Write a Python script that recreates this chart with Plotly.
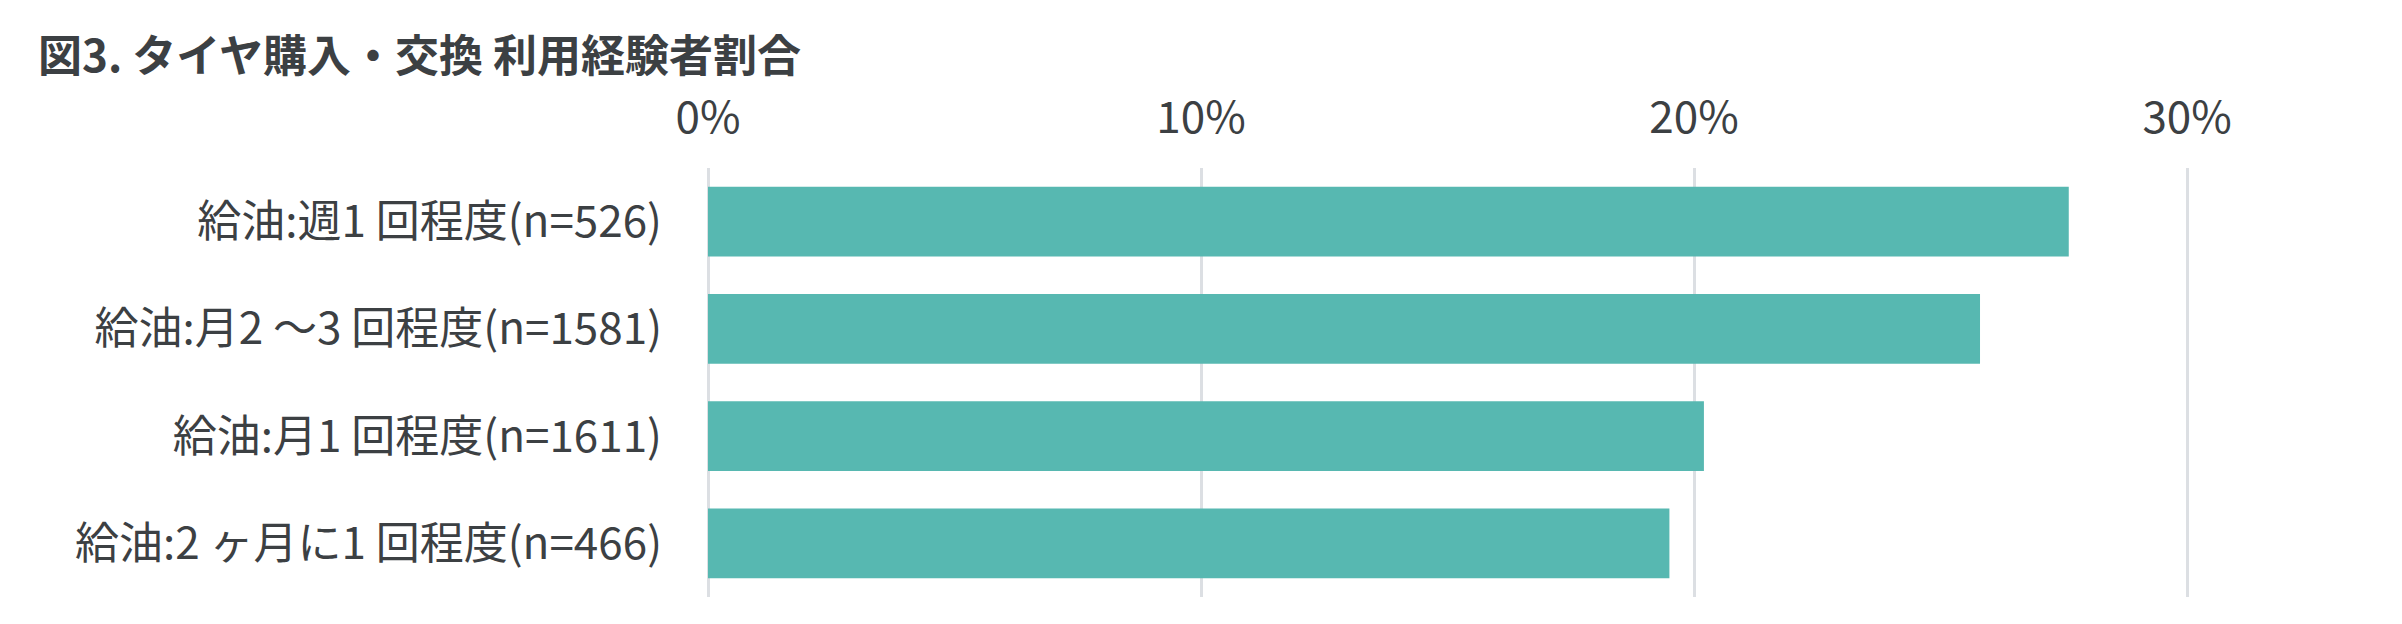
import plotly.graph_objects as go

# data (percent)
categories = [
    "給油:週1 回程度(n=526)",
    "給油:月2 ～3 回程度(n=1581)",
    "給油:月1 回程度(n=1611)",
    "給油:2 ヶ月に1 回程度(n=466)",
]
values = [27.6, 25.8, 20.2, 19.5]
tick_vals = [0, 10, 20, 30]
tick_text = ["0%", "10%", "20%", "30%"]

font_jp = "Noto Sans CJK JP"
text_col = "#3c4043"

fig = go.Figure()
fig.add_trace(go.Bar(
    x=values,
    y=categories,
    orientation="h",
    marker=dict(color="#57b8b1", line=dict(width=0)),
    hoverinfo="x+y",
))

fig.update_layout(
    width=2402,
    height=624,
    paper_bgcolor="white",
    plot_bgcolor="white",
    margin=dict(l=700, r=75, t=160, b=35),
    bargap=0.35,
    showlegend=False,
    font=dict(family=font_jp, size=44, color=text_col),
    title=dict(
        text="<b>図3. タイヤ購入・交換 利用経験者割合</b>",
        xref="container", yref="container",
        x=30 / 2402, xanchor="left",
        y=1 - 49 / 624, yanchor="middle",
        font=dict(family=font_jp, size=44, color=text_col),
    ),
)

fig.update_xaxes(
    side="top",
    range=[0, 33],
    tickvals=tick_vals,
    ticktext=tick_text,
    showgrid=True,
    gridcolor="#dcdfe3",
    gridwidth=3,
    zeroline=True,
    zerolinecolor="#dcdfe3",
    zerolinewidth=3,
    showline=False,
    ticks="",
    ticklabelstandoff=25,
    tickfont=dict(family=font_jp, size=44, color=text_col),
)
fig.update_yaxes(
    autorange="reversed",
    showgrid=False,
    zeroline=False,
    showline=False,
    ticks="",
    ticklabelstandoff=45,
    tickfont=dict(family=font_jp, size=44, color=text_col),
)

fig.write_html("out.html")
